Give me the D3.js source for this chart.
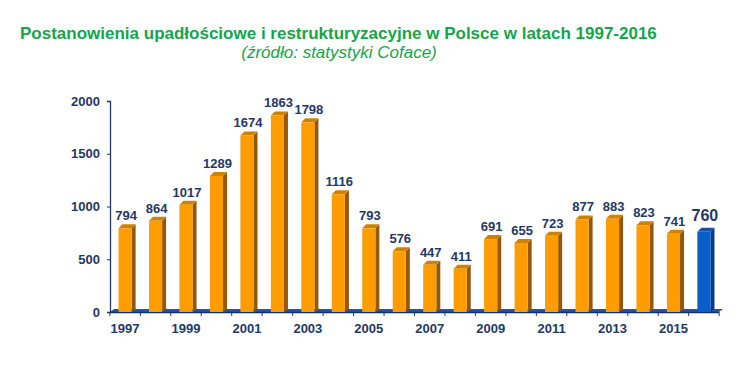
<!DOCTYPE html>
<html>
<head>
<meta charset="utf-8">
<script src="https://cdn.jsdelivr.net/npm/d3@7/dist/d3.min.js"></script>
<style>
  body { margin: 0; background: #fff; }
  svg { display: block; font-family: Arial, "Liberation Sans", sans-serif; }
</style>
</head>
<body>
<svg id="chart" width="749" height="379"></svg>
<script>
// ----- DATA -----
var years = ["1997","1998","1999","2000","2001","2002","2003","2004","2005","2006",
             "2007","2008","2009","2010","2011","2012","2013","2014","2015","2016"];
var decisions = [794, 864, 1017, 1289, 1674, 1863, 1798, 1116, 793, 576,
                 447, 411, 691, 655, 723, 877, 883, 823, 741, 760];
var yTicks = [0, 500, 1000, 1500, 2000];
var xTickLabels = ["1997","1999","2001","2003","2005","2007","2009","2011","2013","2015"];
var highlightYear = "2016";

var svg = d3.select("#chart");
var navy = "#1f3864";
var depthX = 4, depthY = 4;

// title
svg.append("text")
    .attr("x", 20).attr("y", 39)
    .style("font-size", "17px").style("font-weight", "bold")
    .style("fill", "#14a54b")
    .text("Postanowienia upadłościowe i restrukturyzacyjne w Polsce w latach 1997-2016");
svg.append("text")
    .attr("x", 339).attr("y", 58)
    .attr("text-anchor", "middle")
    .style("font-size", "17px").style("font-style", "italic")
    .style("fill", "#14a54b")
    .text("(źródło: statystyki Coface)");

// ----- SCALES -----
var x = d3.scaleBand().domain(years).range([110, 719])
    .paddingInner(0.57).paddingOuter(0.28);
var y = d3.scaleLinear().domain([0, 2000]).range([312, 101]);

// floor (3d base)
var x0 = 110, x1 = 719, y0 = y(0);
svg.append("path")
    .attr("d", "M" + x0 + "," + y0 + " L" + x1 + "," + y0 + " L" + (x1 + depthX) + "," + (y0 - 3) +
               " L" + (x0 + depthX) + "," + (y0 - 3) + " Z")
    .style("fill", "#2456a8");
svg.append("line")
    .attr("x1", x0).attr("x2", x1).attr("y1", y0 + 0.5).attr("y2", y0 + 0.5)
    .style("stroke", "#0d2f6b").style("stroke-width", 1.5);

// ----- BARS -----
var bars = svg.append("g").selectAll("g")
    .data(years.map(function(d, i) { return {year: d, value: decisions[i]}; }))
    .join("g");

function col(d, part) {
    var blue = d.year == highlightYear;
    if (part == "front") return blue ? "#0a5ec8" : "#ff9c00";
    if (part == "side") return blue ? "#0a3a86" : "#93580a";
    return blue ? "#1a4fa0" : "#cf8200";
}

bars.append("path")   // side
    .attr("d", function(d) {
        var r = x(d.year) + x.bandwidth(), t = y(d.value);
        return "M" + r + "," + y0 + " L" + r + "," + t + " L" + (r + depthX) + "," + (t - depthY) +
               " L" + (r + depthX) + "," + (y0 - 3) + " Z";
    })
    .style("fill", function(d) { return col(d, "side"); });

bars.append("path")   // top
    .attr("d", function(d) {
        var l = x(d.year), r = l + x.bandwidth(), t = y(d.value);
        return "M" + l + "," + t + " L" + r + "," + t + " L" + (r + depthX) + "," + (t - depthY) +
               " L" + (l + depthX) + "," + (t - depthY) + " Z";
    })
    .style("fill", function(d) { return col(d, "top"); });

bars.append("rect")   // front
    .attr("x", function(d) { return x(d.year); })
    .attr("y", function(d) { return y(d.value); })
    .attr("width", x.bandwidth())
    .attr("height", function(d) { return y0 - y(d.value); })
    .style("fill", function(d) { return col(d, "front"); });

bars.append("text")
    .attr("x", function(d) { return x(d.year) + x.bandwidth() / 2 + 1; })
    .attr("y", function(d) { return y(d.value) - (d.year == highlightYear ? 11 : 8); })
    .attr("text-anchor", "middle")
    .style("font-size", function(d) { return d.year == highlightYear ? "16px" : "13px"; })
    .style("font-weight", "bold")
    .style("fill", navy)
    .text(function(d) { return d.value; });

// ----- AXES -----
var yAxis = svg.append("g")
    .attr("transform", "translate(110,0)")
    .call(d3.axisLeft(y).tickValues(yTicks).tickFormat(d3.format("d")).tickSize(3).tickPadding(7));
yAxis.select(".domain").style("stroke", navy).style("stroke-width", 1.3);
yAxis.selectAll(".tick line").style("stroke", navy);
yAxis.selectAll("text")
    .style("font-size", "13px").style("font-weight", "bold").style("fill", navy)
    .style("font-family", "Arial, 'Liberation Sans', sans-serif");

// category boundary ticks
var step = x.step();
var bounds = d3.range(years.length + 1).map(function(i) {
    return x(years[0]) + x.bandwidth() / 2 - step / 2 + i * step;
});
svg.append("g").selectAll("line")
    .data(bounds)
    .join("line")
    .attr("x1", function(d) { return d; }).attr("x2", function(d) { return d; })
    .attr("y1", y0).attr("y2", y0 + 4)
    .style("stroke", navy).style("stroke-width", 1);

svg.append("g").selectAll("text")
    .data(xTickLabels)
    .join("text")
    .attr("x", function(d) { return x(d) + x.bandwidth() / 2; })
    .attr("y", 333)
    .attr("text-anchor", "middle")
    .style("font-size", "13px").style("font-weight", "bold").style("fill", navy)
    .text(function(d) { return d; });
</script>
</body>
</html>
